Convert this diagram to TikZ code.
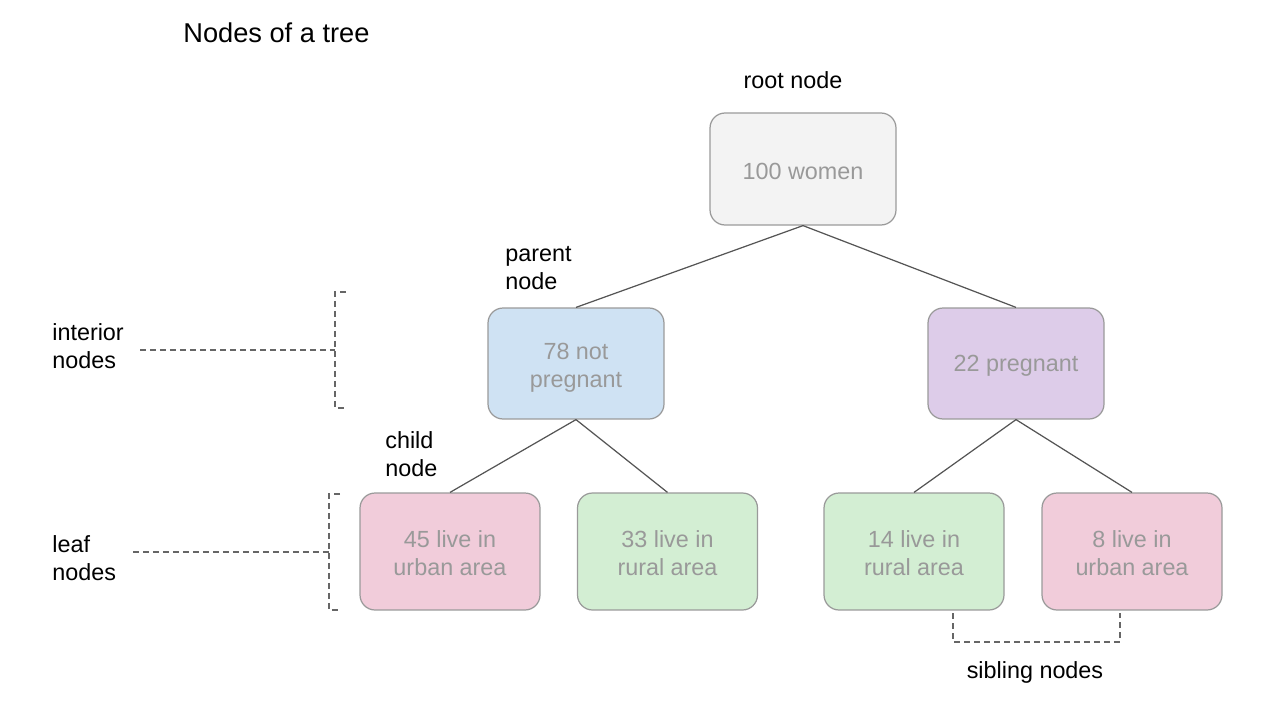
\documentclass[tikz,border=0pt]{standalone}
\usepackage{fontspec}
\setmainfont{Liberation Sans}
\usetikzlibrary{positioning}
\definecolor{boxline}{HTML}{9A9A9A}
\definecolor{boxtext}{HTML}{999999}
\definecolor{edgegray}{HTML}{555555}
\definecolor{dashgray}{HTML}{666666}
\definecolor{rootbg}{HTML}{F3F3F3}
\definecolor{notbg}{HTML}{CFE2F3}
\definecolor{pregbg}{HTML}{DDCCE9}
\definecolor{urbanbg}{HTML}{F1CCDA}
\definecolor{ruralbg}{HTML}{D3EED3}
\newcommand{\boxfont}{\fontsize{13.3}{16}\selectfont}
\newcommand{\titlefont}{\fontsize{15.5}{18}\selectfont}
\newcommand{\lift}[1]{\rule{0pt}{#1}}
\tikzset{
  treebox/.style={draw=boxline, line width=0.7pt, rounded corners=0.3cm,
                  align=center, text=boxtext, font=\boxfont, inner sep=0pt},
  rootbox/.style={treebox, fill=rootbg, minimum width=3.72cm, minimum height=2.24cm},
  midbox/.style={treebox, minimum width=3.52cm, minimum height=2.22cm},
  leafbox/.style={treebox, minimum width=3.6cm, minimum height=2.34cm},
  edge/.style={draw=edgegray, line width=0.7pt},
  brace/.style={draw=dashgray, line width=0.7pt, dash pattern=on 0.12cm off 0.08cm},
  lbl/.style={font=\boxfont, align=left, text=black, inner sep=0pt},
}
\begin{document}
\begin{tikzpicture}[x=0.02cm, y=-0.02cm]
  \useasboundingbox (0,0) rectangle (1273,713);

  %% title
  \node[lbl, font=\titlefont, anchor=west] (title) at (183,33) {Nodes of a tree};

  %% tree
  \node[rootbox] (root) at (803,169) {\lift{12pt}100 women};
  \node[midbox, fill=notbg] (notpreg) at (576,363.5) {\lift{14pt}78 not\\pregnant};
  \node[midbox, fill=pregbg] (preg) at (1016,363.5) {\lift{12pt}22 pregnant};
  \node[leafbox, fill=urbanbg] (urban1) at (450,551.5) {\lift{12pt}45 live in\\urban area};
  \node[leafbox, fill=ruralbg] (rural1) at (667.5,551.5) {\lift{12pt}33 live in\\rural area};
  \node[leafbox, fill=ruralbg] (rural2) at (914,551.5) {\lift{12pt}14 live in\\rural area};
  \node[leafbox, fill=urbanbg] (urban2) at (1132,551.5) {\lift{12pt}8 live in\\urban area};

  \draw[edge] (root.south) -- (notpreg.north);
  \draw[edge] (root.south) -- (preg.north);
  \draw[edge] (notpreg.south) -- (urban1.north);
  \draw[edge] (notpreg.south) -- (rural1.north);
  \draw[edge] (preg.south) -- (rural2.north);
  \draw[edge] (preg.south) -- (urban2.north);

  %% labels
  \node[lbl] (rootlbl) at (793,80) {root node};
  \node[lbl, anchor=west] (parentlbl) at (505,268.5) {parent\\node};
  \node[lbl, anchor=west] (childlbl) at (385,454.5) {child\\node};
  \node[lbl, anchor=west] (interlbl) at (52,346) {interior\\nodes};
  \node[lbl, anchor=west] (leaflbl) at (52,558) {leaf\\nodes};
  \node[lbl] (siblbl) at (1035,672) {sibling nodes};

  %% interior bracket
  \coordinate (intA) at (140,350);
  \coordinate (intB) at (335,350);
  \draw[brace] (intA) -- (intB);
  \draw[brace] (346,292) -- (335,292) -- (335,408) -- (346,408);

  %% leaf bracket
  \coordinate (leafA) at (133,552);
  \coordinate (leafB) at (329,552);
  \draw[brace] (leafA) -- (leafB);
  \draw[brace] (340,494) -- (329,494) -- (329,610) -- (340,610);

  %% sibling bracket
  \coordinate (sibA) at (953,613);
  \coordinate (sibB) at (1120,613);
  \draw[brace] (sibA) -- (sibA |- 0,642) -- (sibB |- 0,642) -- (sibB);
\end{tikzpicture}
\end{document}
